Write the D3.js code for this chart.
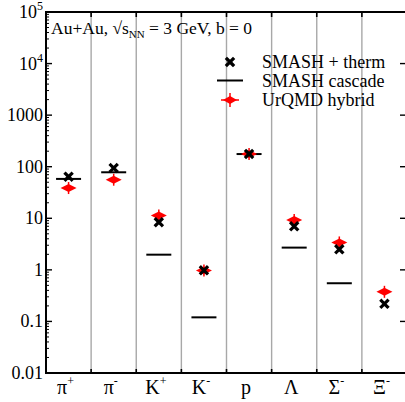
<!DOCTYPE html>
<html>
<head>
<meta charset="utf-8">
<script src="https://cdn.jsdelivr.net/npm/d3@7"></script>
<style>
  body { margin: 0; background: #fff; }
</style>
</head>
<body>
<script>
  // particle species along x
  const species = ["π+", "π-", "K+", "K-", "p", "Λ", "Σ-", "Ξ-"];
  const labelBase = ["π", "π", "K", "K", "p", "Λ", "Σ", "Ξ"];
  const labelSup = ["+", "-", "+", "-", "", "", "-", "-"];

  // yields
  const smashTherm = [64, 94, 8.4, 0.98, 177, 7.0, 2.5, 0.22];
  const smashCascade = [58, 78, 1.97, 0.12, 176, 2.7, 0.55, null];
  const urqmdHybrid = [38.6, 56, 11.3, 0.97, 176, 9.3, 3.4, 0.375];

  const yTicks = [0.01, 0.1, 1, 10, 100, 1000, 1e4, 1e5];
  const yTickLabels = ["0.01", "0.1", "1", "10", "100", "1000", "10^4", "10^5"];

  const W = 405, H = 402;
  const margin = { top: 12, right: -2, bottom: 29, left: 46 };

  const svg = d3.select("body").append("svg")
    .attr("width", W).attr("height", H)
    .attr("font-family", "'Liberation Serif', 'Times New Roman', Times, serif");

  const x = d3.scaleBand()
    .domain(species)
    .range([margin.left, W - margin.right]);

  const y = d3.scaleLog()
    .domain([0.01, 1e5])
    .range([H - margin.bottom, margin.top]);

  const x0 = margin.left;
  const y0 = H - margin.bottom, y1 = margin.top;

  // grey separators between species
  species.slice(1).forEach((s) => {
    svg.append("line")
      .attr("x1", x(s)).attr("x2", x(s))
      .attr("y1", y1).attr("y2", y0)
      .attr("stroke", "#a8a8a8").attr("stroke-width", 1.4);
    svg.append("line")
      .attr("x1", x(s)).attr("x2", x(s))
      .attr("y1", y1).attr("y2", y1 + 5)
      .attr("stroke", "#000").attr("stroke-width", 1.6);
    svg.append("line")
      .attr("x1", x(s)).attr("x2", x(s))
      .attr("y1", y0).attr("y2", y0 - 4)
      .attr("stroke", "#000").attr("stroke-width", 1.6);
  });

  // y minor + major ticks (left and right)
  const minor = [];
  for (let e = -2; e < 5; e++) {
    for (let m = 2; m < 10; m++) minor.push(m * Math.pow(10, e));
  }
  minor.forEach((v) => {
    svg.append("line")
      .attr("x1", x0).attr("x2", x0 + 3)
      .attr("y1", y(v)).attr("y2", y(v))
      .attr("stroke", "#000").attr("stroke-width", 1);
  });
  yTicks.forEach((v) => {
    svg.append("line")
      .attr("x1", x0).attr("x2", x0 + 6)
      .attr("y1", y(v)).attr("y2", y(v))
      .attr("stroke", "#000").attr("stroke-width", 1.4);
    svg.append("line")
      .attr("x1", 400).attr("x2", 405)
      .attr("y1", y(v)).attr("y2", y(v))
      .attr("stroke", "#000").attr("stroke-width", 1.4);
  });

  // y tick labels
  yTickLabels.forEach((t, i) => {
    const ty = y(yTicks[i]);
    const txt = svg.append("text")
      .attr("x", x0 - 3).attr("y", ty + 6)
      .attr("text-anchor", "end")
      .attr("font-size", 18);
    if (t.startsWith("10^")) {
      txt.append("tspan").text("10");
      txt.append("tspan").attr("dy", -8).attr("font-size", 12).text(t.slice(3));
    } else {
      txt.text(t);
    }
  });

  // frame
  svg.append("line").attr("x1", x0).attr("x2", x0).attr("y1", y1 - 1).attr("y2", y0 + 1)
    .attr("stroke", "#000").attr("stroke-width", 2);
  svg.append("line").attr("x1", x0 - 1).attr("x2", W).attr("y1", y0).attr("y2", y0)
    .attr("stroke", "#000").attr("stroke-width", 2);
  svg.append("line").attr("x1", x0 - 1).attr("x2", W).attr("y1", y1).attr("y2", y1)
    .attr("stroke", "#000").attr("stroke-width", 2);

  // x labels
  species.forEach((s, i) => {
    const t = svg.append("text")
      .attr("x", x(s) + x.bandwidth() / 2 - 3)
      .attr("y", y0 + 21)
      .attr("text-anchor", "middle")
      .attr("font-size", 20);
    t.append("tspan").text(labelBase[i]);
    if (labelSup[i]) {
      t.append("tspan").attr("dy", -9).attr("font-size", 12).text(labelSup[i]);
    }
  });

  const cx = (i) => x(species[i]) + x.bandwidth() / 2;

  // cascade lines
  smashCascade.forEach((v, i) => {
    if (v == null) return;
    svg.append("line")
      .attr("x1", cx(i) - 12.5).attr("x2", cx(i) + 12.5)
      .attr("y1", y(v)).attr("y2", y(v))
      .attr("stroke", "#000").attr("stroke-width", 2);
  });

  const redMarker = (g, px, py) => {
    g.append("path")
      .attr("d", `M${px - 8},${py} L${px},${py - 4} L${px + 8},${py} L${px},${py + 4} Z`)
      .attr("fill", "#ff0000");
    g.append("line")
      .attr("x1", px).attr("x2", px).attr("y1", py - 6).attr("y2", py + 6)
      .attr("stroke", "#ff0000").attr("stroke-width", 1.5);
  };

  const crossMarker = (g, px, py) => {
    const r = 3;
    g.append("path")
      .attr("d", `M${px - r},${py - r} L${px + r},${py + r} M${px - r},${py + r} L${px + r},${py - r}`)
      .attr("stroke", "#000").attr("stroke-width", 3.2).attr("stroke-linecap", "square");
  };

  const pts = svg.append("g");
  urqmdHybrid.forEach((v, i) => redMarker(pts, cx(i), y(v)));
  smashTherm.forEach((v, i) => crossMarker(pts, cx(i), y(v)));

  // annotation
  const ann = svg.append("text").attr("x", 51).attr("y", 34).attr("font-size", 17.5);
  ann.append("tspan").text("Au+Au, √s");
  ann.append("tspan").attr("dy", 4).attr("font-size", 11).text("NN");
  ann.append("tspan").attr("dy", -4).text(" = 3 GeV, b = 0");

  // legend
  const lg = svg.append("g");
  const lx = 230, lt = 262;
  crossMarker(lg, lx, 62);
  lg.append("line").attr("x1", lx - 13).attr("x2", lx + 13).attr("y1", 80.5).attr("y2", 80.5)
    .attr("stroke", "#000").attr("stroke-width", 2);
  lg.append("path")
    .attr("d", `M${lx - 7},100 L${lx},96 L${lx + 7},100 L${lx},104 Z`)
    .attr("fill", "#ff0000");
  lg.append("line").attr("x1", lx).attr("x2", lx).attr("y1", 93).attr("y2", 107)
    .attr("stroke", "#ff0000").attr("stroke-width", 1.5);
  lg.append("line").attr("x1", lx - 9).attr("x2", lx + 9).attr("y1", 100).attr("y2", 100)
    .attr("stroke", "#ff0000").attr("stroke-width", 1.5);
  ["SMASH + therm", "SMASH cascade", "UrQMD hybrid"].forEach((t, i) => {
    lg.append("text").attr("x", lt).attr("y", 68 + i * 19)
      .attr("font-size", 18).text(t);
  });
</script>
</body>
</html>
